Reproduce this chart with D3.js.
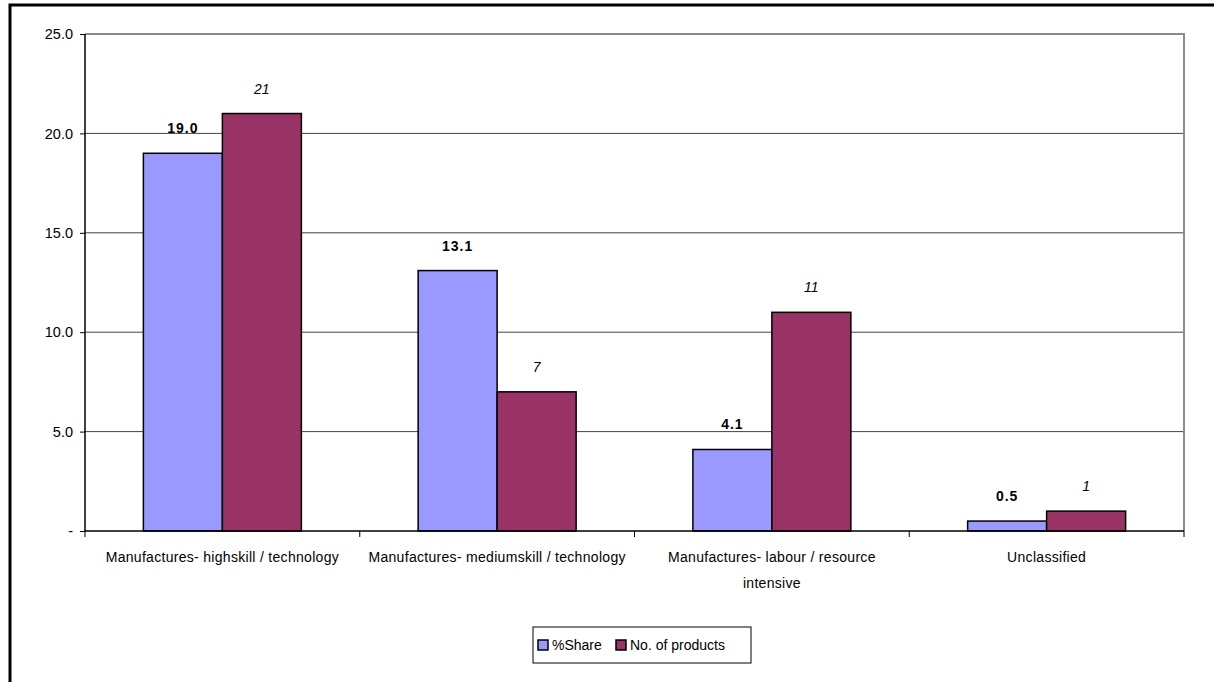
<!DOCTYPE html>
<html>
<head>
<meta charset="utf-8">
<script src="https://cdn.jsdelivr.net/npm/d3@7"></script>
<style>
  body { margin: 0; background: #fff; }
  svg { display: block; font-family: "Liberation Sans", Arial, sans-serif; }
</style>
</head>
<body>
<svg id="chart" width="1214" height="682"></svg>
<script>
// data
const categories = [
    ["Manufactures- highskill / technology"],
    ["Manufactures- mediumskill / technology"],
    ["Manufactures- labour / resource", "intensive"],
    ["Unclassified"]
];
const shareValues = [19.0, 13.1, 4.1, 0.5];
const productCounts = [21, 7, 11, 1];
const seriesNames = ["%Share", "No. of products"];
const yTicks = [0, 5, 10, 15, 20, 25];

const colors = ["#9999ff", "#993366"];

let svg = d3.select("#chart"),
    margin = { top: 34, right: 30, bottom: 151, left: 85 },
    width = 1184 - margin.left,
    height = 531 - margin.top;

// outer frame (runs off the right and bottom edge like the source)
svg.append("rect")
    .attr("x", 10).attr("y", 5)
    .attr("width", 1230).attr("height", 700)
    .attr("fill", "none")
    .attr("stroke", "#000")
    .attr("stroke-width", 3);

let g = svg.append("g").attr("transform", "translate(" + margin.left + "," + margin.top + ")");

let x = d3.scaleBand()
    .domain(d3.range(categories.length))
    .range([0, width]);

let y = d3.scaleLinear()
    .domain([0, 25])
    .range([height, 0]);

let barW = 79;
let xs = d3.scaleBand()
    .domain([0, 1])
    .range([x.bandwidth() / 2 - barW, x.bandwidth() / 2 + barW]);

// gridlines
g.selectAll(".grid")
    .data(yTicks.filter(t => t > 0 && t < 25))
    .enter()
    .append("line")
    .attr("x1", 0).attr("x2", width)
    .attr("y1", d => y(d)).attr("y2", d => y(d))
    .attr("stroke", "#444")
    .attr("stroke-width", 1);

// plot area border (top and right)
g.append("path")
    .attr("d", "M0," + y(25) + "H" + width + "V" + height)
    .attr("fill", "none")
    .attr("stroke", "#8c8c8c")
    .attr("stroke-width", 2);

// bars
let rows = categories.map((c, i) => [shareValues[i], productCounts[i]]);

let groups = g.selectAll(".cat")
    .data(rows)
    .enter()
    .append("g")
    .attr("transform", (d, i) => "translate(" + x(i) + ",0)");

groups.selectAll("rect")
    .data(d => d)
    .enter()
    .append("rect")
    .attr("x", (d, j) => xs(j))
    .attr("y", d => y(d))
    .attr("width", xs.bandwidth())
    .attr("height", d => height - y(d))
    .attr("fill", (d, j) => colors[j])
    .attr("stroke", "#000")
    .attr("stroke-width", 1.5);

groups.selectAll(".lbl")
    .data(d => d)
    .enter()
    .append("text")
    .attr("x", (d, j) => xs(j) + xs.bandwidth() / 2)
    .attr("y", d => y(d) - 20)
    .attr("text-anchor", "middle")
    .style("font-size", "14px")
    .style("font-weight", (d, j) => j == 0 ? "bold" : "normal")
    .style("font-style", (d, j) => j == 1 ? "italic" : "normal")
    .style("letter-spacing", (d, j) => j == 0 ? "1px" : "0px")
    .text((d, j) => j == 0 ? d.toFixed(1) : d);

// y axis
let yAxis = d3.axisLeft(y)
    .tickValues(yTicks)
    .tickSize(5)
    .tickFormat(d => d == 0 ? "-" : d.toFixed(1));

let ya = g.append("g").call(yAxis);
ya.select(".domain").attr("stroke", "#000").attr("stroke-width", 1.5).attr("d", "M0," + y(25) + "V" + height);
ya.selectAll("text").style("font-size", "14.5px").attr("fill", "#000").attr("x", -12);
ya.selectAll("line").attr("stroke", "#000");

// x axis
g.append("line")
    .attr("x1", 0).attr("x2", width)
    .attr("y1", height).attr("y2", height)
    .attr("stroke", "#000")
    .attr("stroke-width", 1.5);

g.selectAll(".xtick")
    .data(d3.range(categories.length + 1))
    .enter()
    .append("line")
    .attr("x1", d => d * x.step()).attr("x2", d => d * x.step())
    .attr("y1", height).attr("y2", height + 6)
    .attr("stroke", "#000");

let xl = g.selectAll(".xlab")
    .data(categories)
    .enter()
    .append("text")
    .attr("text-anchor", "middle")
    .attr("transform", (d, i) => "translate(" + (x(i) + x.bandwidth() / 2) + "," + (height + 31) + ")")
    .style("font-size", "14px")
    .style("letter-spacing", "0.3px")
    .attr("fill", "#000");

xl.selectAll("tspan")
    .data(d => d)
    .enter()
    .append("tspan")
    .attr("x", 0)
    .attr("dy", (d, k) => k == 0 ? 0 : 26)
    .text(d => d);

// legend
let leg = svg.append("g").attr("transform", "translate(533,627)");
leg.append("rect")
    .attr("width", 218).attr("height", 36)
    .attr("fill", "#fff")
    .attr("stroke", "#000")
    .attr("stroke-width", 1);

let items = leg.selectAll(".item")
    .data(seriesNames)
    .enter()
    .append("g")
    .attr("transform", (d, i) => "translate(" + (i == 0 ? 5 : 83) + ",13)");

items.append("rect")
    .attr("width", 10).attr("height", 10)
    .attr("fill", (d, i) => colors[i])
    .attr("stroke", "#000")
    .attr("stroke-width", 1.5);

items.append("text")
    .attr("x", 14).attr("y", 10)
    .style("font-size", "14px")
    .text(d => d);
</script>
</body>
</html>
